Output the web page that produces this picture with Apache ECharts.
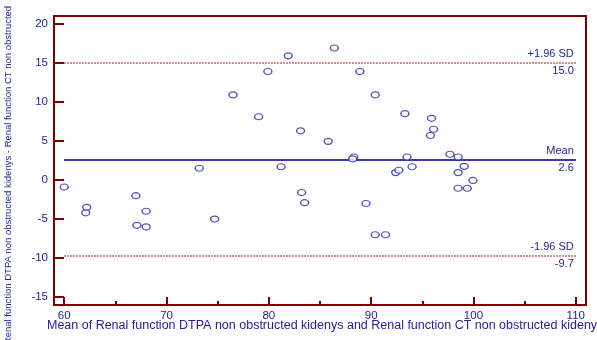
<!DOCTYPE html>
<html>
<head>
<meta charset="utf-8">
<script src="https://cdn.jsdelivr.net/npm/echarts@6/dist/echarts.min.js"></script>
<style>
  html, body { margin: 0; padding: 0; background: #fff; }
  #chart { width: 597px; height: 340px; }
</style>
</head>
<body>
<div id="chart"></div>
<script>
// Bland-Altman: mean of the two methods vs. their difference
const meanValues = [
  60.0, 62.2, 62.1, 67.0, 67.1, 68.0, 68.0, 73.2, 74.7, 76.5,
  79.0, 79.9, 81.2, 81.9, 83.1, 83.2, 83.5, 85.8, 86.4, 88.3,
  88.2, 88.9, 89.5, 90.4, 90.4, 91.4, 92.4, 92.7, 93.3, 93.5,
  94.0, 95.8, 95.9, 96.1, 97.7, 98.5, 98.5, 98.5, 99.1, 99.4,
  99.95
];
const diffValues = [
  -0.9, -3.5, -4.2, -2.0, -5.8, -4.0, -6.0, 1.5, -5.0, 10.9,
  8.1, 13.9, 1.7, 15.9, 6.3, -1.6, -2.9, 4.95, 16.9, 2.95,
  2.7, 13.9, -3.0, 10.9, -7.0, -7.0, 0.95, 1.25, 8.5, 2.95,
  1.7, 5.7, 7.9, 6.5, 3.3, 2.95, 0.95, -1.05, 1.75, -1.05,
  -0.05
];
const meanDiff = 2.6;
const upperLimit = 15.0;
const lowerLimit = -9.7;
const xMajorTicks = [60, 70, 80, 90, 100, 110];
const xMinorTicks = [65, 75, 85, 95, 105];
const yTicks = [-15, -10, -5, 0, 5, 10, 15, 20];

const axisRed = '#800000';
const textBlue = '#23239a';
const pointBlue = '#2a2aa6';
const meanBlue = '#3a3aa8';
const sdRed = '#c47878';
const font = 'Liberation Sans, Arial, sans-serif';

const points = meanValues.map((m, i) => [m, diffValues[i]]);

function refLine(value, topText, color, type, width) {
  const bottomText = value.toFixed(1);
  const lbl = (txt, pos) => ({
    show: true, formatter: txt, position: pos, color: textBlue,
    fontSize: 11, fontFamily: font, distance: [2, 3]
  });
  return [
    [{ coord: [60, value], label: lbl(topText, 'insideEndTop'),
       lineStyle: { color, type, width } }, { coord: [110, value] }],
    [{ coord: [60, value], label: lbl(bottomText, 'insideEndBottom'),
       lineStyle: { color, type, width } }, { coord: [110, value] }]
  ];
}

const chart = echarts.init(document.getElementById('chart'));
chart.setOption({
  animation: false,
  grid: {
    left: 54, right: 11, top: 16, bottom: 35,
    show: true, borderColor: axisRed, borderWidth: 2, backgroundColor: 'transparent'
  },
  xAxis: [{
    type: 'value', min: 59, max: 111,
    axisLine: { show: true, onZero: false, lineStyle: { color: axisRed, width: 2 } },
    axisTick: { show: true, inside: true, length: 8, customValues: xMajorTicks,
                lineStyle: { color: axisRed, width: 2 } },
    axisLabel: { customValues: xMajorTicks, color: textBlue, fontSize: 11.5,
                 fontFamily: font, margin: 5 },
    splitLine: { show: false }
  }, {
    type: 'value', min: 59, max: 111, position: 'bottom',
    axisLine: { show: false, onZero: false },
    axisTick: { show: true, inside: true, length: 4, customValues: xMinorTicks,
                lineStyle: { color: axisRed, width: 2 } },
    axisLabel: { show: false },
    splitLine: { show: false }
  }],
  yAxis: {
    type: 'value', min: -16, max: 21,
    axisLine: { show: true, onZero: false, lineStyle: { color: axisRed, width: 2 } },
    axisTick: { show: true, inside: true, length: 10, customValues: yTicks,
                lineStyle: { color: axisRed, width: 2 } },
    axisLabel: { customValues: yTicks, color: textBlue, fontSize: 11.5,
                 fontFamily: font, margin: 6 },
    splitLine: { show: false }
  },
  graphic: [{
    type: 'text', x: 8, y: 175, rotation: Math.PI / 2,
    style: {
      text: 'Renal function DTPA non obstructed kidenys - Renal function CT non obstructed',
      fill: textBlue, font: '9.5px ' + font, align: 'center', verticalAlign: 'middle'
    }
  }, {
    type: 'text', left: 47, top: 319,
    style: {
      text: 'Mean of Renal function DTPA non obstructed kidenys and Renal function CT non obstructed kideny',
      fill: textBlue, font: '12.5px ' + font
    }
  }],
  series: [{
    type: 'scatter',
    data: points,
    symbol: 'circle',
    symbolSize: [8, 6],
    itemStyle: { color: '#fff', borderColor: pointBlue, borderWidth: 1.3 },
    z: 5,
    markLine: {
      silent: true, symbol: 'none', animation: false,
      data: [
        ...refLine(upperLimit, '+1.96 SD', sdRed, 'dotted', 1.5),
        ...refLine(meanDiff, 'Mean', meanBlue, 'solid', 2),
        ...refLine(lowerLimit, '-1.96 SD', sdRed, 'dotted', 1.5)
      ]
    }
  }]
});
</script>
</body>
</html>
